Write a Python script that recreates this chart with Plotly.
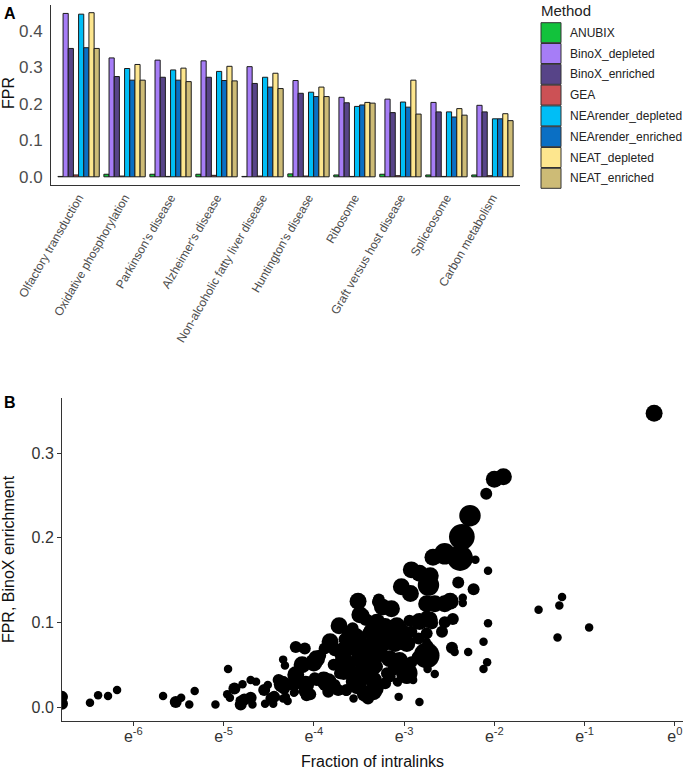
import plotly.graph_objects as go

# ---------------- Panel A data ----------------
pathways = ["Olfactory transduction", "Oxidative phosphorylation", "Parkinson's disease",
            "Alzheimer's disease", "Non-alcoholic fatty liver disease", "Huntington's disease",
            "Ribosome", "Graft versus host disease", "Spliceosome", "Carbon metabolism"]
methods = ["ANUBIX", "BinoX_depleted", "BinoX_enriched", "GEA", "NEArender_depleted",
           "NEArender_enriched", "NEAT_depleted", "NEAT_enriched"]
method_colors = ["#12C23C", "#A67DF7", "#574488", "#CC5155", "#00BEF6",
                 "#0A6FC4", "#FDE68E", "#CDBB76"]

fpr_anubix = [0.001, 0.007, 0.007, 0.007, 0.001, 0.008, 0.005, 0.007, 0.005, 0.005]
fpr_binox_depleted = [0.448, 0.326, 0.320, 0.318, 0.302, 0.264, 0.218, 0.213, 0.204, 0.196]
fpr_binox_enriched = [0.352, 0.275, 0.273, 0.273, 0.256, 0.229, 0.203, 0.176, 0.178, 0.178]
fpr_gea = [0.005, 0.002, 0.001, 0.004, 0.002, 0.002, 0.001, 0.003, 0.001, 0.003]
fpr_nearender_depleted = [0.446, 0.297, 0.293, 0.289, 0.273, 0.232, 0.193, 0.205, 0.178, 0.159]
fpr_nearender_enriched = [0.354, 0.265, 0.265, 0.264, 0.246, 0.220, 0.197, 0.191, 0.164, 0.159]
fpr_neat_depleted = [0.450, 0.308, 0.298, 0.303, 0.284, 0.246, 0.204, 0.265, 0.187, 0.173]
fpr_neat_enriched = [0.352, 0.265, 0.261, 0.263, 0.242, 0.220, 0.202, 0.172, 0.169, 0.154]

fpr_ticks_a = [0.0, 0.1, 0.2, 0.3, 0.4]

# ---------------- Panel B data ----------------
# natural log of the fraction of intralinks
log_fraction_intralinks = [
    -6.79, -6.79, -6.48, -6.39, -6.28, -6.18, -5.67, -5.53, -5.47, -5.38,
    -5.32, -5.09, -4.95, -4.96, -4.93, -4.88, -4.82, -4.81, -4.79, -4.77,
    -4.70, -4.70, -4.68, -4.64, -4.55, -4.54, -4.51, -4.47, -4.45, -4.44,
    -4.34, -4.32, -4.39, -4.35, -4.33, -4.31, -4.29, -4.26, -4.20, -4.22,
    -4.20, -4.13, -4.10, -4.09, -4.10, -4.08, -4.04, -4.00, -3.99, -3.97,
    -3.93, -3.88, -3.89, -3.84, -3.84, -3.82, -3.77, -3.78, -3.77, -3.72,
    -3.67, -3.67, -3.51, -3.49, -3.43, -3.64, -3.53, -3.40, -4.02, -3.71,
    -3.64, -3.60, -3.53, -3.45, -3.40, -3.71, -3.60, -3.49, -4.19, -4.10,
    -3.97, -3.86, -3.82, -3.77, -3.73, -3.64, -3.43, -4.76, -4.71, -4.34,
    -4.21, -2.38, -2.55, -2.68, -2.21, -2.07, -2.92, -2.83, -2.71, -2.73,
    -2.40, -3.03, -2.93, -2.23, -2.35, -2.35, -3.28, -3.24, -3.14, -2.75,
    -2.66, -2.55, -2.49, -3.30, -3.08, -2.94, -2.83, -2.72, -2.55, -2.46,
    -2.58, -2.07, -1.51, -1.25, -1.28, -0.95, -1.30, -2.12, -2.08, -2.12,
    -2.29, -2.44, -2.47, -2.75, -2.74, -2.85, -2.74, -2.66, -2.97, -2.92,
    -3.06, -2.83, -3.07, -3.21, -3.34, -3.64, -3.32, -2.90, -3.08, -0.23,
    -1.90, -2.00, -2.09, -2.27, -2.36, -3.29, -3.45, -3.41, -2.75, -2.69,
    -3.21, -3.12, -3.05, -3.36, -3.25, -3.12, -3.01, -2.92, -2.84, -2.75,
    -3.49, -3.41, -3.30, -3.19, -3.10, -2.97, -2.75, -3.49, -3.38, -3.27,
    -3.16, -3.05, -3.41, -3.34, -3.34, -3.12, -3.16, -3.30, -3.19, -3.05,
    -3.60, -3.57, -3.62, -3.66, -3.55, -3.70, -3.58, -3.52, -3.47, -3.56,
    -3.40]
fpr_binox_enrichment = [
    0.012, 0.004, 0.005, 0.014, 0.013, 0.020, 0.013, 0.006, 0.011, 0.003,
    0.019, 0.003, 0.045, 0.015, 0.011, 0.022, 0.008, 0.003, 0.027, 0.009,
    0.032, 0.011, 0.003, 0.030, 0.020, 0.004, 0.026, 0.010, 0.004, 0.012,
    0.056, 0.049, 0.032, 0.027, 0.022, 0.012, 0.007, 0.027, 0.071, 0.017,
    0.038, 0.050, 0.069, 0.027, 0.018, 0.014, 0.015, 0.052, 0.034, 0.057,
    0.061, 0.069, 0.032, 0.030, 0.018, 0.077, 0.067, 0.050, 0.024, 0.096,
    0.067, 0.042, 0.125, 0.109, 0.103, 0.067, 0.083, 0.087, 0.055, 0.053,
    0.057, 0.048, 0.055, 0.052, 0.059, 0.040, 0.038, 0.040, 0.028, 0.022,
    0.032, 0.028, 0.022, 0.026, 0.020, 0.020, 0.016, 0.008, 0.010, 0.010,
    0.018, 0.176, 0.181, 0.177, 0.174, 0.161, 0.162, 0.158, 0.155, 0.144,
    0.147, 0.142, 0.134, 0.139, 0.129, 0.123, 0.127, 0.118, 0.116, 0.122,
    0.122, 0.122, 0.125, 0.100, 0.096, 0.102, 0.101, 0.103, 0.100, 0.104,
    0.089, 0.099, 0.115, 0.130, 0.120, 0.094, 0.082, 0.077, 0.053, 0.045,
    0.065, 0.065, 0.070, 0.061, 0.072, 0.059, 0.045, 0.039, 0.040, 0.053,
    0.012, 0.006, 0.029, 0.028, 0.018, 0.018, 0.022, 0.032, 0.030, 0.347,
    0.272, 0.269, 0.252, 0.226, 0.201, 0.124, 0.109, 0.103, 0.107, 0.099,
    0.095, 0.093, 0.091, 0.089, 0.085, 0.083, 0.087, 0.089, 0.081, 0.087,
    0.075, 0.071, 0.075, 0.077, 0.075, 0.075, 0.077, 0.059, 0.061, 0.063,
    0.057, 0.055, 0.040, 0.048, 0.032, 0.044, 0.036, 0.048, 0.040, 0.052,
    0.085, 0.093, 0.075, 0.080, 0.070, 0.060, 0.030, 0.025, 0.030, 0.010,
    0.010]
# size-encoded variable, in classes 1..5
size_class = [
    2, 2, 1, 1, 1, 1, 1, 2, 1, 1,
    1, 1, 1, 1, 1, 2, 1, 2, 1, 2,
    1, 2, 1, 1, 2, 1, 1, 2, 1, 2,
    1, 1, 2, 3, 2, 1, 1, 2, 2, 1,
    3, 3, 2, 3, 2, 2, 2, 3, 2, 3,
    2, 2, 3, 3, 2, 3, 2, 2, 2, 3,
    3, 3, 3, 3, 2, 2, 3, 2, 2, 2,
    2, 2, 2, 3, 2, 2, 2, 3, 2, 2,
    2, 3, 2, 2, 2, 2, 3, 1, 1, 1,
    1, 5, 4, 3, 1, 1, 3, 3, 3, 4,
    2, 3, 3, 2, 1, 1, 2, 3, 3, 3,
    3, 3, 3, 3, 3, 2, 3, 3, 2, 2,
    2, 1, 1, 1, 1, 1, 1, 1, 1, 1,
    1, 1, 2, 5, 2, 2, 1, 1, 4, 2,
    1, 1, 1, 2, 3, 1, 3, 1, 1, 3,
    3, 3, 2, 4, 5, 2, 2, 2, 2, 2,
    3, 3, 3, 3, 3, 3, 3, 2, 2, 2,
    3, 3, 3, 3, 3, 3, 1, 3, 3, 3,
    3, 3, 3, 3, 3, 2, 2, 2, 2, 2,
    3, 2, 2, 2, 3, 2, 2, 3, 2, 1,
    2]
log_ticks_b = [-6, -5, -4, -3, -2, -1, 0]
fpr_ticks_b = [0.0, 0.1, 0.2, 0.3]

# ---------------- figure ----------------
W, H = 685, 770
FONT = "Liberation Sans, Arial, sans-serif"


def fx(p):
    return min(max(p / W, 0.0), 1.0)


def fy(p):
    return min(max(1 - p / H, 0.0), 1.0)


fig = go.Figure()

series = [fpr_anubix, fpr_binox_depleted, fpr_binox_enriched, fpr_gea,
          fpr_nearender_depleted, fpr_nearender_enriched, fpr_neat_depleted, fpr_neat_enriched]
for name, color, vals in zip(methods, method_colors, series):
    fig.add_trace(go.Bar(
        x=pathways, y=vals, name=name, showlegend=False,
        marker=dict(color=color, line=dict(color="#1a1a1a", width=1)),
        xaxis="x", yaxis="y"))

size_area = {1: 25, 2: 50, 3: 100, 4: 160, 5: 230}
fig.add_trace(go.Scatter(
    x=log_fraction_intralinks, y=fpr_binox_enrichment, mode="markers",
    marker=dict(color="black", opacity=1, size=[size_area[c] for c in size_class],
                sizemode="area", sizeref=25 / 36, line=dict(width=0)),
    showlegend=False, xaxis="x2", yaxis="y2"))

axis_common = dict(showgrid=False, zeroline=False, showline=True, automargin=False,
                   linecolor="#333333", linewidth=1)

fig.update_layout(
    width=W, height=H,
    margin=dict(l=0, r=0, t=0, b=0, autoexpand=False),
    paper_bgcolor="white", plot_bgcolor="white",
    font=dict(family=FONT, color="#222222"),
    barmode="group", bargap=0.1, bargroupgap=0,
    showlegend=False,
    xaxis=dict(domain=[fx(51), fx(520)], anchor="y", type="category",
               categoryorder="array", categoryarray=pathways,
               range=[-0.6, len(pathways) - 0.4], ticks="", tickangle=-60,
               tickfont=dict(size=12, color="#4d4d4d"), **axis_common),
    yaxis=dict(domain=[fy(185), fy(4.5)], anchor="x",
               range=[-0.0225, 0.4725], tickvals=fpr_ticks_a, tickformat=".1f",
               ticks="", ticklabelstandoff=4,
               tickfont=dict(size=17, color="#4d4d4d"),
               **axis_common),
    xaxis2=dict(domain=[fx(62), fx(683)], anchor="y2",
                range=[-6.79, 0.09], tickvals=log_ticks_b,
                ticktext=["e<sup>%d</sup>" % t for t in log_ticks_b],
                ticks="outside", ticklen=4, tickcolor="#333333",
                ticklabelstandoff=-3,
                tickfont=dict(size=16, color="#333333"),
                title=dict(text="Fraction of intralinks", font=dict(size=16, color="#111111")),
                **axis_common),
    yaxis2=dict(domain=[fy(721), fy(398)], anchor="x2",
                range=[-0.0165, 0.365], tickvals=fpr_ticks_b, tickformat=".1f",
                ticks="outside", ticklen=4, tickcolor="#333333",
                tickfont=dict(size=16, color="#333333"),
                title=dict(text="FPR, BinoX enrichment", font=dict(size=16, color="#111111")),
                **axis_common),
)

# y title of panel A
fig.add_annotation(text="FPR", x=fx(9), y=fy(93), xref="paper", yref="paper",
                   xanchor="center", yanchor="middle", textangle=-90, showarrow=False,
                   font=dict(size=16, color="#111111"))

# panel letters
fig.add_annotation(text="<b>A</b>", x=fx(2), y=fy(3), xref="paper", yref="paper",
                   xanchor="left", yanchor="top", showarrow=False,
                   font=dict(size=16, color="black"))
fig.add_annotation(text="<b>B</b>", x=fx(2), y=fy(392), xref="paper", yref="paper",
                   xanchor="left", yanchor="top", showarrow=False,
                   font=dict(size=16, color="black"))

# legend for panel A (Method)
fig.add_annotation(text="Method", x=fx(539), y=fy(0), xref="paper", yref="paper",
                   xanchor="left", yanchor="top", showarrow=False,
                   font=dict(size=15, color="#222222"))
key_top, key_pitch, key_size = 22.7, 20.8, 20
for i, (name, color) in enumerate(zip(methods, method_colors)):
    top = key_top + i * key_pitch
    fig.add_shape(type="rect", xref="paper", yref="paper",
                  x0=fx(541), x1=fx(541 + key_size), y0=fy(top + key_size), y1=fy(top),
                  fillcolor=color, line=dict(color="#333333", width=1))
    fig.add_annotation(text=name, x=fx(568), y=fy(top + key_size / 2),
                       xref="paper", yref="paper", xanchor="left", yanchor="middle",
                       showarrow=False, font=dict(size=12, color="#222222"))

# remove the browser's default 8 px page margin so the figure fills the window
fig.write_html("out.html", config={"displayModeBar": False},
               post_script="document.body.style.margin='0px';")
